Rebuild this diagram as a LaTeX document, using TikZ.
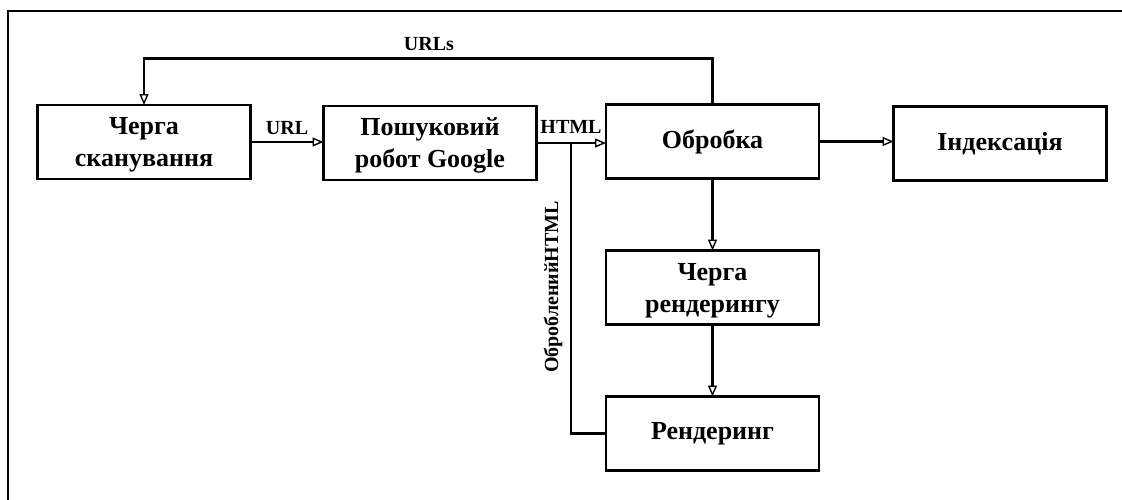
\documentclass[tikz,border=0pt]{standalone}
\usepackage{fontspec}
\setmainfont{Liberation Serif}
\usetikzlibrary{arrows.meta}
\newcommand\firstline{\rule{0pt}{23pt}}
\begin{document}
\begin{tikzpicture}[x=1pt,y=-1pt,
  box/.style={draw,line width=2.6pt,minimum width=213pt,minimum height=74pt,inner sep=0pt,outer sep=0pt,align=center,font=\fontsize{26}{32}\selectfont\bfseries},
  conn/.style={line width=2.8pt,-{Triangle[open,length=11pt,width=9pt,line width=1.4pt]}},
  plain/.style={line width=2.8pt},
  lbl/.style={font=\fontsize{20}{24}\selectfont\bfseries,inner sep=0pt}]
\useasboundingbox (0,0) rectangle (1122,499);
\draw[line width=1.6pt] (8,505) -- (8,11) -- (1130,11);
\node[box] (q) at (144,142) {\firstline Черга\\сканування};
\node[box] (crawler) at (430,143) {\firstline Пошуковий\\робот Google};
\node[box] (proc) at (712.5,141.5) {Обробка};
\node[box] (idx) at (1000,143.5) {Індексація};
\node[box] (rq) at (712.5,287.5) {\firstline Черга\\рендерингу};
\node[box] (rend) at (712.5,433.5) {Рендеринг};
\coordinate (j) at (571,142);
\draw[conn] (q.east) -- (q.east -| crawler.west);
\draw[conn] (crawler.east) -- (crawler.east -| proc.west);
\draw[conn] (proc.east) -- (proc.east -| idx.west);
\draw[conn] (proc.north) -- ++(0,-46) -| (q.north);
\draw[conn] (proc.south) -- (rq.north);
\draw[conn] (rq.south) -- (rend.north);
\draw[plain] (rend.west) -| (j);
\node[lbl] (lurl) at (287,128) {URL};
\node[lbl] (lhtml) at (571,126.5) {HTML};
\node[lbl] (lurls) at (429,44) {URLs};
\node[lbl,rotate=90] (lproc) at (553,287) {ОбробленийHTML};
\end{tikzpicture}
\end{document}
